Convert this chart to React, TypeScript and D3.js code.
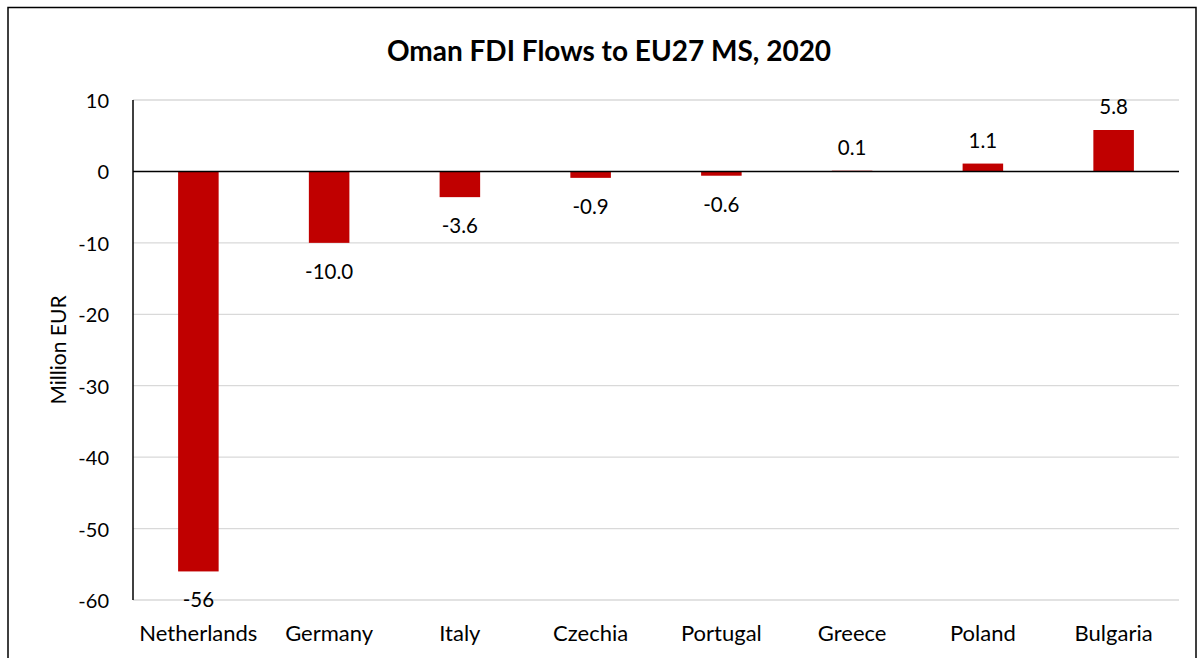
import React from "react";
import * as d3 from "d3";

const categories = ["Netherlands", "Germany", "Italy", "Czechia", "Portugal", "Greece", "Poland", "Bulgaria"];
const values = [-56, -10.0, -3.6, -0.9, -0.6, 0.1, 1.1, 5.8];
const valueLabels = ["-56", "-10.0", "-3.6", "-0.9", "-0.6", "0.1", "1.1", "5.8"];
const yTicks = [10, 0, -10, -20, -30, -40, -50, -60];
const title = "Oman FDI Flows to EU27 MS, 2020";
const yTitle = "Million EUR";

const FONT = "Lato, 'Open Sans', sans-serif";

export default function App() {
  const W = 1204, H = 658;
  const left = 133, right = 1179, top = 100, bottom = 600;
  const x = d3.scaleBand<string>().domain(categories).range([left, right]).paddingInner(0.69).paddingOuter(0.345);
  const y = d3.scaleLinear().domain([-60, 10]).range([bottom, top]);
  return (
    <svg width={W} height={H} style={{ position: "absolute", left: 0, top: 0, background: "#fff" }}>
      <rect x={0} y={0} width={W} height={H} fill="#fff" />
      <rect x={8} y={7.5} width={1188} height={700} fill="none" stroke="#000" strokeWidth={1.5} />
      <text x={609} y={50} textAnchor="middle" dominantBaseline="central" fontFamily={FONT} fontWeight="bold" fontSize={28} fill="#000">{title}</text>
      {yTicks.map((t) => (
        <g key={t}>
          {t !== 0 && <line x1={left} x2={right} y1={y(t)} y2={y(t)} stroke="#d9d9d9" strokeWidth={1.3} />}
          <text x={109} y={y(t)} textAnchor="end" dominantBaseline="central" fontFamily={FONT} fontSize={20} fill="#000">{t}</text>
        </g>
      ))}
      {categories.map((c, i) => {
        const v = values[i];
        const y0 = y(0), y1 = y(v);
        const bx = x(c)!;
        const bw = x.bandwidth();
        const cx = bx + bw / 2;
        return (
          <g key={c}>
            <rect x={bx} y={Math.min(y0, y1)} width={bw} height={Math.abs(y1 - y0)} fill="#c00000" />
            <text x={cx} y={v >= 0 ? y1 - 24 : y1 + 28} textAnchor="middle" dominantBaseline="central" fontFamily={FONT} fontSize={20.5} fill="#000">{valueLabels[i]}</text>
            <text x={cx} y={632} textAnchor="middle" dominantBaseline="central" fontFamily={FONT} fontSize={22} fill="#000">{c}</text>
          </g>
        );
      })}
      <line x1={left} x2={right} y1={y(0)} y2={y(0)} stroke="#000" strokeWidth={1.5} />
      <line x1={left} x2={left} y1={top} y2={bottom} stroke="#000" strokeWidth={1.5} />
      <text transform={`translate(57,350) rotate(-90)`} textAnchor="middle" dominantBaseline="central" fontFamily={FONT} fontSize={21} fill="#000">{yTitle}</text>
    </svg>
  );
}
